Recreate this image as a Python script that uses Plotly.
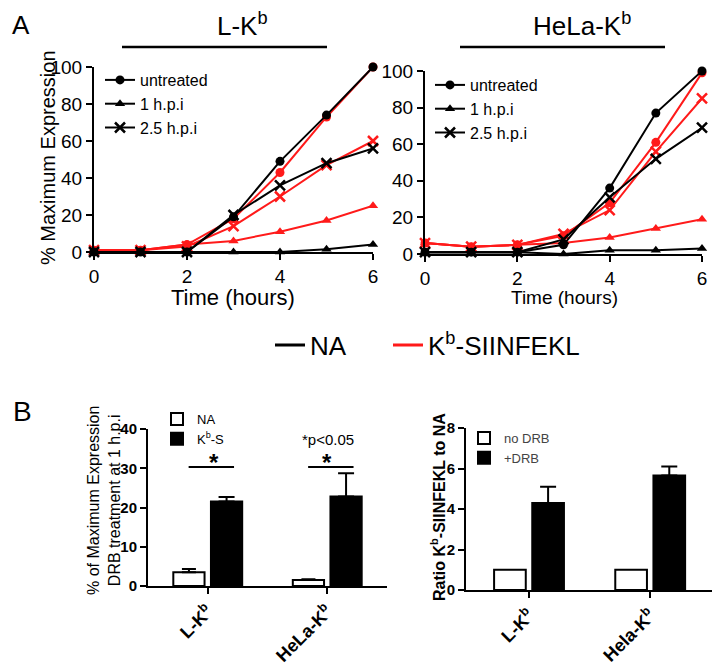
import plotly.graph_objects as go

# ---------------- data ----------------
hours = [0, 1, 2, 3, 4, 5, 6]

# Panel A, L-Kb
lkb_na_untreated = [0, 0, 0, 19, 49, 74, 100]
lkb_na_1hpi = [0, 0, 0, 0, 0, 1.5, 4]
lkb_na_25hpi = [0, 0, 0, 20, 36, 48, 56]
lkb_s_untreated = [1, 1, 4, 18, 43, 73, 100]
lkb_s_1hpi = [1, 1, 4, 6, 11, 17, 25]
lkb_s_25hpi = [1, 1, 3, 14, 30, 47, 60]

# Panel A, HeLa-Kb
hela_na_untreated = [1, 1, 1, 5, 36, 77, 100]
hela_na_1hpi = [1, 1, 1, 0, 2, 2, 3]
hela_na_25hpi = [1, 1, 1, 8, 31, 52, 69]
hela_s_untreated = [6, 4, 5, 10, 28, 61, 99]
hela_s_1hpi = [6, 4, 5, 6, 9, 14, 19]
hela_s_25hpi = [6, 4, 5, 11, 24, 56, 85]

series_names = ["untreated", "1 h.p.i", "2.5 h.p.i"]

# Panel B left
b_categories = [0, 1]
b_ticktext_left = ["L-K<sup>b</sup>", "HeLa-K<sup>b</sup>"]
b_na = [3.5, 1.5]
b_na_err = [0.8, 0.2]
b_kbs = [21.5, 22.8]
b_kbs_err = [1.2, 5.9]

# Panel B right
b_ticktext_right = ["L-K<sup>b</sup>", "Hela-K<sup>b</sup>"]
ratio_nodrb = [1.0, 1.0]
ratio_drb = [4.3, 5.65]
ratio_drb_err = [0.8, 0.45]

# ---------------- helpers ----------------
# page body has an 8px margin; figure sized so that it fits in the 724x667 window
OFF = 8
W, H = 716, 659
FONT = "Liberation Sans, Arial, sans-serif"


def px(x):
    return (x - OFF) / W


def py(y):
    return 1 - (y - OFF) / H


RED = "#ff1a1a"
BLACK = "#000000"
symbols = ["circle", "triangle-up", "x-thin"]

fig = go.Figure()


def add_lines(xax, yax, na_list, s_list, legend_name):
    # red first, black on top
    for vals, sym in zip(s_list, symbols):
        fig.add_trace(go.Scatter(
            x=hours, y=vals, mode="lines+markers", xaxis=xax, yaxis=yax,
            line=dict(color=RED, width=2),
            marker=dict(symbol=sym, size=9 if sym != "x-thin" else 10, color=RED,
                        line=dict(color=RED, width=2.5 if sym == "x-thin" else 0)),
            showlegend=False, cliponaxis=False))
    for vals, sym, name in zip(na_list, symbols, series_names):
        fig.add_trace(go.Scatter(
            x=hours, y=vals, mode="lines+markers", xaxis=xax, yaxis=yax,
            name=name, legend=legend_name,
            line=dict(color=BLACK, width=2),
            marker=dict(symbol=sym, size=9 if sym != "x-thin" else 10, color=BLACK,
                        line=dict(color=BLACK, width=2.5 if sym == "x-thin" else 0)),
            cliponaxis=False))


add_lines("x", "y", [lkb_na_untreated, lkb_na_1hpi, lkb_na_25hpi],
          [lkb_s_untreated, lkb_s_1hpi, lkb_s_25hpi], "legend")
add_lines("x2", "y2", [hela_na_untreated, hela_na_1hpi, hela_na_25hpi],
          [hela_s_untreated, hela_s_1hpi, hela_s_25hpi], "legend2")

# legend-only traces for NA / Kb-SIINFEKL
fig.add_trace(go.Scatter(x=[None], y=[None], mode="lines", name="NA",
                         line=dict(color=BLACK, width=3), legend="legend3",
                         xaxis="x", yaxis="y"))
fig.add_trace(go.Scatter(x=[None], y=[None], mode="lines", name="K<sup>b</sup>-SIINFEKL",
                         line=dict(color=RED, width=3), legend="legend6",
                         xaxis="x", yaxis="y"))

# Panel B left bars
fig.add_trace(go.Bar(x=b_categories, y=b_na, name="NA", xaxis="x3", yaxis="y3",
                     marker=dict(color="white", line=dict(color=BLACK, width=2)),
                     error_y=dict(type="data", array=b_na_err, arrayminus=[0, 0],
                                  symmetric=False, color=BLACK, thickness=2, width=7),
                     legend="legend4"))
fig.add_trace(go.Bar(x=b_categories, y=b_kbs, name="K<sup>b</sup>-S", xaxis="x3", yaxis="y3",
                     marker=dict(color=BLACK, line=dict(color=BLACK, width=2)),
                     error_y=dict(type="data", array=b_kbs_err, arrayminus=[0, 0],
                                  symmetric=False, color=BLACK, thickness=2, width=8),
                     legend="legend4"))

# Panel B right bars
fig.add_trace(go.Bar(x=b_categories, y=ratio_nodrb, name="no DRB", xaxis="x4", yaxis="y4",
                     marker=dict(color="white", line=dict(color=BLACK, width=2)),
                     legend="legend5"))
fig.add_trace(go.Bar(x=b_categories, y=ratio_drb, name="+DRB", xaxis="x4", yaxis="y4",
                     marker=dict(color=BLACK, line=dict(color=BLACK, width=2)),
                     error_y=dict(type="data", array=ratio_drb_err, arrayminus=[0, 0],
                                  symmetric=False, color=BLACK, thickness=2, width=8),
                     legend="legend5"))

axis_common = dict(showgrid=False, zeroline=False, showline=True, linecolor=BLACK,
                   linewidth=2, ticks="outside", tickcolor=BLACK, tickwidth=2,
                   ticklen=6, mirror=False, automargin=False)

top_tick_font = dict(family=FONT, size=19, color=BLACK)
bot_tick_font = dict(family=FONT, size=15, color=BLACK, weight="bold")
cat_tick_font = dict(family=FONT, size=18, color=BLACK, weight="bold")

clear = "rgba(0,0,0,0)"
fig.update_layout(
    width=W, height=H, margin=dict(l=0, r=0, t=0, b=0, autoexpand=False),
    paper_bgcolor="white", plot_bgcolor="white",
    font=dict(family=FONT, color=BLACK),
    barmode="group", bargap=0.37, bargroupgap=0.17,
    xaxis=dict(domain=[px(94), px(373)], range=[0, 6], tickvals=[0, 2, 4, 6],
               anchor="y", tickfont=top_tick_font, **axis_common),
    yaxis=dict(domain=[py(252), py(67)], range=[0, 100], tickvals=[0, 20, 40, 60, 80, 100],
               anchor="x", tickfont=top_tick_font, **axis_common),
    xaxis2=dict(domain=[px(425), px(702)], range=[0, 6], tickvals=[0, 2, 4, 6],
                anchor="y2", tickfont=top_tick_font, **axis_common),
    yaxis2=dict(domain=[py(254), py(71)], range=[0, 100], tickvals=[0, 20, 40, 60, 80, 100],
                anchor="x2", tickfont=top_tick_font, **axis_common),
    xaxis3=dict(domain=[px(148), px(387)], range=[-0.5, 1.5], tickvals=b_categories,
                ticktext=b_ticktext_left, tickangle=-45, anchor="y3",
                tickfont=cat_tick_font, **axis_common),
    yaxis3=dict(domain=[py(586), py(429)], range=[0, 40], tickvals=[0, 10, 20, 30, 40],
                anchor="x3", tickfont=bot_tick_font, **axis_common),
    xaxis4=dict(domain=[px(466), px(712)], range=[-0.52, 1.51], tickvals=b_categories,
                ticktext=b_ticktext_right, tickangle=-45, anchor="y4",
                tickfont=cat_tick_font, **axis_common),
    yaxis4=dict(domain=[py(590), py(428)], range=[0, 8], tickvals=[0, 2, 4, 6, 8],
                anchor="x4", tickfont=bot_tick_font, **axis_common),
    legend=dict(x=px(100), y=py(63), xanchor="left", yanchor="top",
                font=dict(family=FONT, size=16, color=BLACK), bgcolor=clear,
                itemwidth=30, tracegroupgap=0),
    legend2=dict(x=px(430), y=py(68), xanchor="left", yanchor="top",
                 font=dict(family=FONT, size=16, color=BLACK), bgcolor=clear,
                 itemwidth=30, tracegroupgap=0),
    legend3=dict(x=px(270), y=py(345), xanchor="left", yanchor="middle",
                 font=dict(family=FONT, size=26, color=BLACK), bgcolor=clear, itemwidth=30),
    legend6=dict(x=px(388), y=py(345), xanchor="left", yanchor="middle",
                 font=dict(family=FONT, size=26, color=BLACK), bgcolor=clear, itemwidth=30),
    legend4=dict(x=px(157), y=py(404), xanchor="left", yanchor="top",
                 font=dict(family=FONT, size=13, color=BLACK), bgcolor=clear,
                 itemwidth=30, tracegroupgap=0),
    legend5=dict(x=px(464), y=py(423), xanchor="left", yanchor="top",
                 font=dict(family=FONT, size=13, color="#444444"), bgcolor=clear,
                 itemwidth=30, tracegroupgap=0),
)

annotations = [
    dict(text="A", x=px(21), y=py(25), size=26),
    dict(text="B", x=px(23), y=py(411), size=28),
    dict(text="L-K<sup>b</sup>", x=px(242), y=py(25), size=26),
    dict(text="HeLa-K<sup>b</sup>", x=px(582), y=py(25), size=26),
    dict(text="Time (hours)", x=px(233), y=py(297), size=22),
    dict(text="Time (hours)", x=px(564), y=py(297), size=19),
    dict(text="% Maximum Expression", x=px(48), y=py(158), size=20, angle=-90),
    dict(text="% of Maximum Expression<br>DRB treatment at 1 h.p.i", x=px(104), y=py(501),
         size=16, angle=-90),
    dict(text="<b>Ratio K<sup>b</sup>-SIINFEKL to NA</b>", x=px(438), y=py(507), size=16,
         angle=-90),
    dict(text="*p<0.05", x=px(328), y=py(439), size=15),
    dict(text="<b>*</b>", x=px(214), y=py(462), size=24),
    dict(text="<b>*</b>", x=px(327), y=py(462), size=24),
]
for a in annotations:
    fig.add_annotation(text=a["text"], x=a["x"], y=a["y"], xref="paper", yref="paper",
                       showarrow=False, xanchor="center", yanchor="middle",
                       textangle=a.get("angle", 0),
                       font=dict(family=FONT, size=a["size"], color=BLACK))

# title underlines
fig.add_shape(type="line", xref="paper", yref="paper", x0=px(122), x1=px(327),
              y0=py(47), y1=py(47), line=dict(color=BLACK, width=2.5))
fig.add_shape(type="line", xref="paper", yref="paper", x0=px(460), x1=px(665),
              y0=py(47), y1=py(47), line=dict(color=BLACK, width=2.5))
# significance bars
sig_y = 30.3
for c in b_categories:
    fig.add_shape(type="line", xref="x3", yref="y3", x0=c - 0.16, x1=c + 0.22,
                  y0=sig_y, y1=sig_y, line=dict(color=BLACK, width=2))

fig.write_html("out.html")
